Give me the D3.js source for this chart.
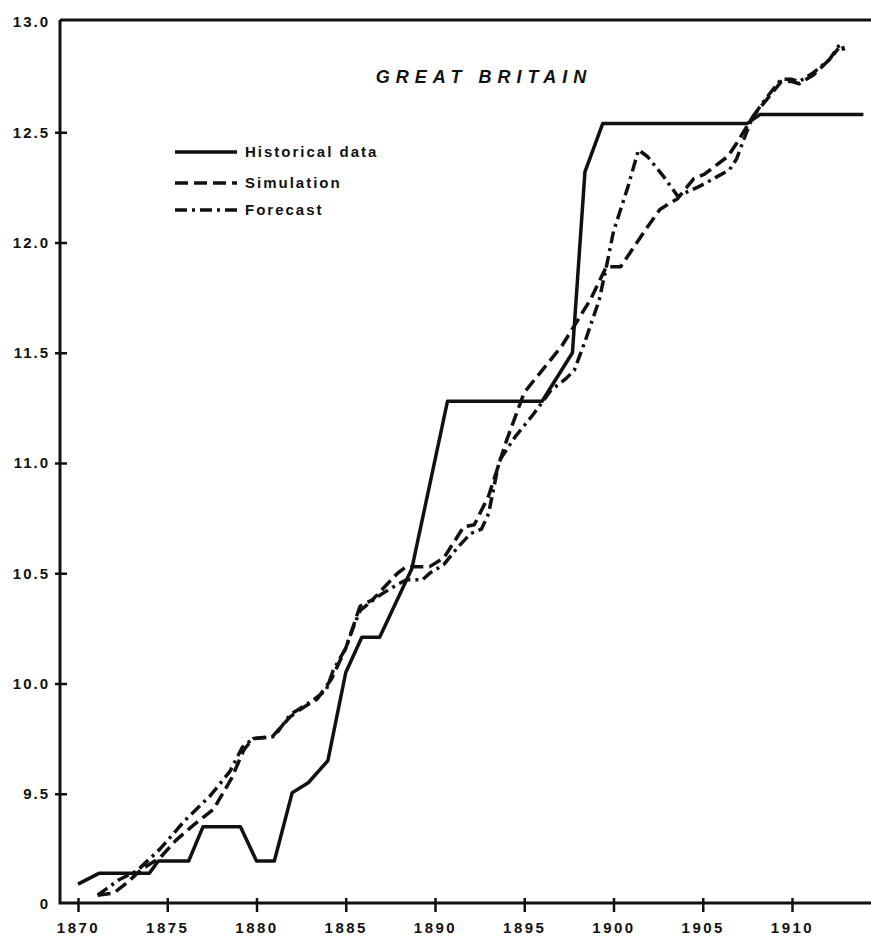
<!DOCTYPE html>
<html>
<head>
<meta charset="utf-8">
<script src="https://cdn.jsdelivr.net/npm/d3@7"></script>
<style>
  html, body { margin: 0; padding: 0; background: #fff; }
  svg { display: block; }
  text { font-family: "Liberation Sans", Arial, sans-serif; font-weight: 700; fill: #111; }
</style>
</head>
<body>
<div id="chart"></div>
<script>
// Great Britain – historical data vs simulation vs forecast

const xTicks = [1870, 1875, 1880, 1885, 1890, 1895, 1900, 1905, 1910];
const yTicks = [9.0, 9.5, 10.0, 10.5, 11.0, 11.5, 12.0, 12.5, 13.0];
const yTickLabels = ['0', '9.5', '10.0', '10.5', '11.0', '11.5', '12.0', '12.5', '13.0'];

const histYears = [1870.0, 1871.2, 1874.0, 1874.5, 1876.2, 1877.0, 1879.1, 1880.0, 1881.0, 1882.0,
  1882.9, 1884.0, 1885.0, 1885.9, 1886.9, 1888.7, 1890.7, 1896.0, 1897.7, 1898.4, 1899.4, 1907.5, 1908.2, 1914.0];
const histValues = [9.09, 9.14, 9.14, 9.195, 9.195, 9.35, 9.35, 9.195, 9.195, 9.505,
  9.55, 9.65, 10.05, 10.21, 10.21, 10.52, 11.28, 11.28, 11.50, 12.32, 12.54, 12.54, 12.58, 12.58];

const simYears = [1871.1, 1872.0, 1872.8, 1873.6, 1874.6, 1875.5, 1876.5, 1877.6, 1878.6, 1879.3,
  1879.8, 1880.9, 1881.9, 1882.6, 1883.4, 1884.2, 1885.0, 1885.8, 1886.5, 1887.9, 1888.4, 1889.7,
  1890.5, 1891.6, 1892.2, 1893.0, 1894.0, 1895.0, 1896.0, 1897.1, 1898.7, 1899.6, 1900.4, 1900.9,
  1901.9, 1902.6, 1903.6, 1904.5, 1905.1, 1906.4, 1906.9, 1907.5, 1907.8, 1908.6, 1909.4, 1910.0,
  1910.4, 1911.2, 1912.1, 1912.6];
const simValues = [9.04, 9.05, 9.10, 9.16, 9.21, 9.29, 9.36, 9.43, 9.57, 9.70,
  9.75, 9.76, 9.85, 9.89, 9.93, 10.02, 10.16, 10.35, 10.38, 10.50, 10.53, 10.53,
  10.57, 10.71, 10.72, 10.85, 11.10, 11.32, 11.42, 11.53, 11.74, 11.89, 11.89, 11.95,
  12.07, 12.15, 12.20, 12.29, 12.31, 12.39, 12.45, 12.53, 12.57, 12.65, 12.73, 12.73,
  12.72, 12.76, 12.83, 12.88];

const foreYears = [1871.1, 1872.3, 1873.3, 1874.6, 1876.0, 1877.4, 1878.5, 1879.2, 1879.8, 1880.6,
  1881.0, 1881.9, 1883.1, 1883.9, 1884.3, 1885.0, 1885.4, 1885.8, 1886.7, 1887.9, 1888.4, 1889.3,
  1889.7, 1890.5, 1891.3, 1892.0, 1892.6, 1893.0, 1893.6, 1894.5, 1895.5, 1896.5, 1897.3, 1897.8,
  1898.4, 1899.2, 1899.6, 1900.0, 1900.8, 1901.4, 1901.9, 1902.8, 1903.6, 1904.7, 1905.4, 1906.5,
  1906.9, 1907.5, 1907.8, 1908.6, 1909.4, 1910.0, 1910.4, 1911.2, 1912.1, 1912.6, 1912.8, 1912.9];
const foreValues = [9.04, 9.11, 9.15, 9.25, 9.38, 9.49, 9.60, 9.71, 9.75, 9.755,
  9.76, 9.86, 9.92, 9.97, 10.06, 10.16, 10.25, 10.33, 10.39, 10.45, 10.47, 10.47,
  10.50, 10.54, 10.62, 10.68, 10.70, 10.77, 11.01, 11.12, 11.22, 11.33, 11.38, 11.42,
  11.55, 11.74, 11.89, 12.05, 12.25, 12.42, 12.39, 12.30, 12.21, 12.25, 12.28, 12.33,
  12.38, 12.51, 12.57, 12.66, 12.74, 12.74, 12.73, 12.77, 12.83, 12.89, 12.90, 12.87];

const seriesNames = ['Historical data', 'Simulation', 'Forecast'];
const seriesDash = [null, '13,6', '12,5,3,5'];

const W = 871, H = 938;
const frameLeft = 60, frameRight = 871, frameTop = 20, frameBottom = 903;

const svg = d3.select('#chart').append('svg')
  .attr('width', W)
  .attr('height', H);

const x = d3.scaleLinear().domain([1870, 1910]).range([78, 792]);
const y = d3.scaleLinear().domain([9, 13]).range([904, 22]);

// frame: left axis, bottom axis, top rule (no right side)
const frame = svg.append('g').attr('stroke', '#111').attr('stroke-width', 3).attr('fill', 'none');
frame.append('path').attr('d', `M${frameLeft},${frameTop} L${frameLeft},${frameBottom} L${frameRight},${frameBottom}`);
frame.append('line').attr('x1', frameLeft).attr('x2', frameRight).attr('y1', frameTop).attr('y2', frameTop);

// y axis
const yAxis = svg.append('g')
  .attr('transform', `translate(${frameLeft},0)`)
  .call(d3.axisLeft(y).tickValues(yTicks).tickSize(5).tickPadding(5)
    .tickFormat((d, i) => yTickLabels[i]));
yAxis.select('.domain').remove();
yAxis.selectAll('.tick line')
  .attr('x1', 7)
  .attr('stroke', '#111')
  .attr('stroke-width', 2.5)
  .style('display', d => (d === 9 || d === 13) ? 'none' : null);
yAxis.selectAll('.tick text')
  .attr('font-size', 15)
  .attr('letter-spacing', 2)
  .attr('fill', '#111');

// x axis
const xAxis = svg.append('g')
  .attr('transform', `translate(0,${frameBottom})`)
  .call(d3.axisBottom(x).tickValues(xTicks).tickSize(9).tickPadding(10)
    .tickFormat(d3.format('d')));
xAxis.select('.domain').remove();
xAxis.selectAll('.tick line')
  .attr('y1', -5)
  .attr('stroke', '#111')
  .attr('stroke-width', 2.5);
xAxis.selectAll('.tick text')
  .attr('font-size', 15)
  .attr('letter-spacing', 2.5)
  .attr('fill', '#111');

// series lines
const line = d3.line().x(d => x(d[0])).y(d => y(d[1]));
const series = [
  d3.zip(histYears, histValues),
  d3.zip(simYears, simValues),
  d3.zip(foreYears, foreValues)
];

svg.append('g')
  .selectAll('path')
  .data(series)
  .join('path')
  .attr('d', line)
  .attr('fill', 'none')
  .attr('stroke', '#111')
  .attr('stroke-width', 3.5)
  .attr('stroke-linejoin', 'round')
  .attr('stroke-dasharray', (d, i) => seriesDash[i]);

// title
svg.append('text')
  .attr('x', 484)
  .attr('y', 83)
  .attr('text-anchor', 'middle')
  .attr('font-size', 18)
  .attr('font-style', 'italic')
  .attr('letter-spacing', 6)
  .text('GREAT BRITAIN');

// legend
const legendY = [152, 183, 210];
const legend = svg.append('g')
  .selectAll('g')
  .data(seriesNames)
  .join('g')
  .attr('transform', (d, i) => `translate(175,${legendY[i]})`);

legend.append('line')
  .attr('x1', 0)
  .attr('x2', 62)
  .attr('stroke', '#111')
  .attr('stroke-width', 3.5)
  .attr('stroke-dasharray', (d, i) => seriesDash[i]);

legend.append('text')
  .attr('x', 70)
  .attr('dy', '0.36em')
  .attr('font-size', 15)
  .attr('letter-spacing', 2)
  .text(d => d);
</script>
</body>
</html>
